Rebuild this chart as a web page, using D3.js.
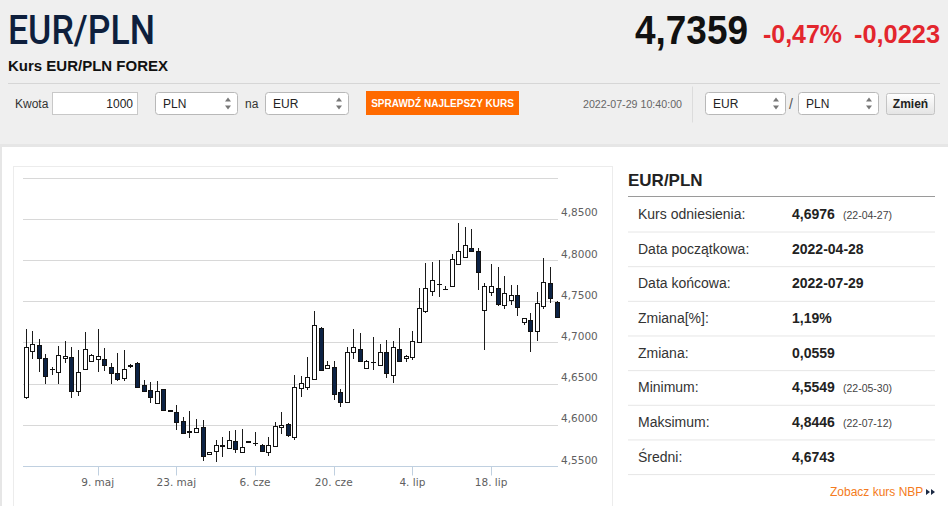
<!DOCTYPE html>
<html><head><meta charset="utf-8">
<script src="https://cdnjs.cloudflare.com/ajax/libs/d3/7.8.5/d3.min.js"></script>
<style>html,body{margin:0;padding:0;background:#fff;overflow:hidden}svg{display:block}</style>
</head><body><svg id="c" width="948" height="506"></svg>
<script>
// ---- data ----
const openV  = [4.6334,4.6896,4.6968,4.6807,4.6673,4.6645,4.6807,4.6819,4.6410,4.6681,4.6774,4.6795,4.6799,4.6705,4.6625,4.6564,4.6720,4.6750,4.6483,4.6422,4.6268,4.6431,4.6175,4.6159,4.6046,4.5920,4.5913,4.5970,4.5642,4.5686,4.5738,4.5715,4.5803,4.5674,4.5798,4.5779,4.5758,4.5674,4.5743,4.5970,4.6010,4.5848,4.6443,4.6462,4.6552,4.7178,4.6689,4.6705,4.6394,4.6280,4.6880,4.6916,4.6693,4.6758,4.6726,4.6880,4.6604,4.6916,4.6807,4.6819,4.7009,4.7381,4.7624,4.7705,4.7644,4.7684,4.7951,4.8040,4.8149,4.8109,4.7393,4.7615,4.7664,4.7454,4.7515,4.7575,4.7244,4.7272,4.7138,4.7442,4.7717,4.7494];
const highV  = [4.7159,4.7142,4.7038,4.6859,4.6705,4.6956,4.7017,4.6941,4.6908,4.7122,4.6855,4.7159,4.6928,4.6754,4.6875,4.6908,4.6738,4.6758,4.6544,4.6523,4.6532,4.6434,4.6180,4.6240,4.6091,4.6171,4.6074,4.6058,4.5674,4.5816,4.5856,4.5925,4.5937,4.5949,4.5805,4.5909,4.5763,4.5856,4.6034,4.6159,4.6016,4.6604,4.6596,4.6819,4.7381,4.7191,4.6774,4.6774,4.6431,4.6944,4.7159,4.7110,4.6786,4.7062,4.6977,4.7029,4.7021,4.7171,4.6847,4.7142,4.7664,4.7960,4.7972,4.8000,4.7688,4.8073,4.8446,4.8404,4.8373,4.8142,4.7717,4.7948,4.7919,4.7806,4.7697,4.7697,4.7302,4.7353,4.7608,4.8028,4.7919,4.7502];
const lowV   = [4.6313,4.6799,4.6645,4.6491,4.6604,4.6491,4.6754,4.6322,4.6353,4.6673,4.6766,4.6645,4.6653,4.6491,4.6535,4.6535,4.6689,4.6443,4.6394,4.6268,4.6261,4.6171,4.6164,4.5937,4.5885,4.5836,4.5904,4.5565,4.5633,4.5549,4.5606,4.5706,4.5661,4.5670,4.5785,4.5743,4.5674,4.5621,4.5734,4.5888,4.5856,4.5816,4.6341,4.6422,4.6544,4.6657,4.6677,4.6301,4.6220,4.6268,4.6795,4.6766,4.6686,4.6665,4.6714,4.6564,4.6511,4.6762,4.6766,4.6786,4.6996,4.7353,4.7563,4.7555,4.7636,4.7672,4.7939,4.8021,4.8103,4.7636,4.6908,4.7567,4.7445,4.7402,4.7454,4.7324,4.7211,4.6887,4.7017,4.7405,4.7475,4.7296];
const closeV = [4.6940,4.6977,4.6807,4.6596,4.6677,4.6843,4.6839,4.6410,4.6645,4.6920,4.6847,4.6831,4.6722,4.6632,4.6560,4.6677,4.6712,4.6462,4.6414,4.6334,4.6410,4.6180,4.6167,4.6028,4.5904,4.5912,4.5958,4.5625,4.5666,4.5755,4.5749,4.5816,4.5706,4.5727,4.5791,4.5785,4.5682,4.5755,4.5985,4.5998,4.5876,4.6455,4.6504,4.6576,4.7215,4.6669,4.6729,4.6370,4.6280,4.6887,4.6948,4.6774,4.6774,4.6766,4.6887,4.6625,4.6941,4.6774,4.6839,4.7021,4.7414,4.7664,4.7757,4.7712,4.7652,4.8008,4.8109,4.8182,4.8113,4.7858,4.7684,4.7688,4.7462,4.7603,4.7575,4.7433,4.7300,4.7138,4.7475,4.7729,4.7535,4.7305];
const xTickIndex  = [11,23,35,47,59,71];
const xTickLabels = ["9. maj","23. maj","6. cze","20. cze","4. lip","18. lip"];
const yTickValues = [4.55,4.60,4.65,4.70,4.75,4.80,4.85];
const yTickLabels = ["4,5500","4,6000","4,6500","4,7000","4,7500","4,8000","4,8500"];
const yGridValues = [4.60,4.65,4.70,4.75,4.80,4.85,4.90];
const statLabels = ["Kurs odniesienia:","Data początkowa:","Data końcowa:","Zmiana[%]:","Zmiana:","Minimum:","Maksimum:","Średni:"];
const statValues = ["4,6976","2022-04-28","2022-07-29","1,19%","0,0559","4,5549","4,8446","4,6743"];
const statDates  = ["(22-04-27)","","","","","(22-05-30)","(22-07-12)",""];

const svg = d3.select("#c");
const SANS = "'Liberation Sans', Arial, sans-serif";
const HC = "'DejaVu Sans', Verdana, sans-serif";

// ---- page background ----
svg.append("rect").attr("x",0).attr("y",0).attr("width",948).attr("height",506).attr("fill","#ffffff");
svg.append("rect").attr("x",0).attr("y",0).attr("width",948).attr("height",145).attr("fill","#efefef");
svg.append("rect").attr("x",0).attr("y",144).attr("width",948).attr("height",3).attr("fill","#e6e6e6");
svg.append("rect").attr("x",0).attr("y",144).attr("width",2).attr("height",362).attr("fill","#e6e6e6");

// ---- header ----
svg.append("text").attr("x",8).attr("y",44).attr("font-family","Roboto, "+SANS).attr("font-weight",500)
  .attr("font-size",40).attr("fill","#0e1f3d").attr("textLength",147).attr("lengthAdjust","spacingAndGlyphs").text("EUR/PLN");
svg.append("text").attr("x",635).attr("y",44).attr("font-family",SANS).attr("font-weight","bold")
  .attr("font-size",40).attr("fill","#111").attr("textLength",113).attr("lengthAdjust","spacingAndGlyphs").text("4,7359");
svg.append("text").attr("x",763).attr("y",43).attr("font-family",SANS).attr("font-weight","bold")
  .attr("font-size",26).attr("fill","#e3262d").attr("textLength",79).attr("lengthAdjust","spacingAndGlyphs").text("-0,47%");
svg.append("text").attr("x",854).attr("y",43).attr("font-family",SANS).attr("font-weight","bold")
  .attr("font-size",26).attr("fill","#e3262d").attr("textLength",86).attr("lengthAdjust","spacingAndGlyphs").text("-0,0223");
svg.append("text").attr("x",8).attr("y",71).attr("font-family",SANS).attr("font-weight","bold")
  .attr("font-size",15).attr("fill","#111").text("Kurs EUR/PLN FOREX");
svg.append("line").attr("x1",8).attr("x2",940).attr("y1",83.5).attr("y2",83.5).attr("stroke","#d6d6d6");

// ---- controls row ----
const cy = 92.5; // top of boxes
svg.append("text").attr("x",15).attr("y",cy+15.5).attr("font-family",SANS).attr("font-size",12).attr("fill","#333").text("Kwota");
svg.append("rect").attr("x",52.5).attr("y",cy).attr("width",85).attr("height",22).attr("fill","#fff").attr("stroke","#c8c8c8");
svg.append("text").attr("x",133).attr("y",cy+15.5).attr("text-anchor","end").attr("font-family",SANS).attr("font-size",12).attr("fill","#222").text("1000");
function selectBox(x, w, label){
  svg.append("rect").attr("x",x+0.5).attr("y",cy).attr("width",w).attr("height",22).attr("rx",3)
    .attr("fill","#fff").attr("stroke","#b8b8b8");
  svg.append("text").attr("x",x+8).attr("y",cy+15.5).attr("font-family",SANS).attr("font-size",12).attr("fill","#222").text(label);
  const ax = x + w - 9, my = cy + 11;
  svg.append("path").attr("d",`M${ax-3},${my-2} L${ax+3},${my-2} L${ax},${my-6} Z M${ax-3},${my+2} L${ax+3},${my+2} L${ax},${my+6} Z`).attr("fill","#777");
}
selectBox(155, 82, "PLN");
svg.append("text").attr("x",245).attr("y",cy+15.5).attr("font-family",SANS).attr("font-size",12).attr("fill","#333").text("na");
selectBox(265, 83, "EUR");
svg.append("rect").attr("x",366).attr("y",cy-1.5).attr("width",153).attr("height",24).attr("fill","#ff6a00");
svg.append("text").attr("x",442.5).attr("y",cy+14.5).attr("text-anchor","middle").attr("font-family",SANS).attr("font-weight","bold")
  .attr("font-size",10).attr("fill","#fff").text("SPRAWDŹ NAJLEPSZY KURS");
svg.append("text").attr("x",583).attr("y",cy+15.5).attr("font-family",SANS).attr("font-size",11).attr("fill","#666")
  .attr("textLength",99).attr("lengthAdjust","spacingAndGlyphs").text("2022-07-29 10:40:00");
svg.append("line").attr("x1",692.5).attr("x2",692.5).attr("y1",cy-6).attr("y2",cy+30).attr("stroke","#dcdcdc");
selectBox(705, 80, "EUR");
svg.append("text").attr("x",789).attr("y",cy+16.5).attr("font-family",SANS).attr("font-size",14).attr("fill","#555").text("/");
selectBox(798, 80, "PLN");
const zg = svg.append("defs").append("linearGradient").attr("id","zg").attr("x1",0).attr("x2",0).attr("y1",0).attr("y2",1);
zg.append("stop").attr("offset","0").attr("stop-color","#ffffff");
zg.append("stop").attr("offset","1").attr("stop-color","#e4e4e4");
svg.append("rect").attr("x",886.5).attr("y",cy+1).attr("width",48).attr("height",21).attr("rx",2).attr("fill","url(#zg)").attr("stroke","#c4c4c4");
svg.append("text").attr("x",910.5).attr("y",cy+15.5).attr("text-anchor","middle").attr("font-family",SANS).attr("font-weight","bold")
  .attr("font-size",12).attr("fill","#222").text("Zmień");

// ---- chart box ----
svg.append("rect").attr("x",13.5).attr("y",166.5).attr("width",599).attr("height",345).attr("fill","#fff").attr("stroke","#ececec");

const x = d3.scaleLinear().domain([0, openV.length-1]).range([25.6, 556.6]);
const y = d3.scaleLinear().domain([4.55, 4.90]).range([466, 177.6]);
const plotL = 23, plotR = 558;

svg.append("g").selectAll("line").data(yGridValues).join("line")
  .attr("x1",plotL).attr("x2",plotR)
  .attr("y1",d=>Math.round(y(d))+0.5).attr("y2",d=>Math.round(y(d))+0.5)
  .attr("stroke","#d8d8d8");

svg.append("g").selectAll("text").data(yTickValues).join("text")
  .attr("x",561).attr("y",d=>y(d)-2.5)
  .attr("font-family",HC).attr("font-size",10.5).attr("fill","#606060")
  .text((d,i)=>yTickLabels[i]);

// x axis
const axisY = Math.round(y(4.55))+0.5;
svg.append("line").attr("x1",plotL).attr("x2",plotR).attr("y1",axisY).attr("y2",axisY).attr("stroke","#c0d0e0");
const xt = svg.append("g").selectAll("g").data(xTickIndex).join("g");
xt.append("line").attr("x1",d=>Math.round(x(d))+0.5).attr("x2",d=>Math.round(x(d))+0.5)
  .attr("y1",axisY).attr("y2",axisY+9).attr("stroke","#c0d0e0");
xt.append("text").attr("x",d=>x(d)).attr("y",485.5).attr("text-anchor","middle")
  .attr("font-family",HC).attr("font-size",10.5).attr("fill","#606060").text((d,i)=>xTickLabels[i]);

// candles
const idx = d3.range(openV.length);
const cg = svg.append("g");
cg.selectAll("line").data(idx).join("line")
  .attr("x1",i=>Math.round(x(i))+0.5).attr("x2",i=>Math.round(x(i))+0.5)
  .attr("y1",i=>Math.round(y(highV[i]))).attr("y2",i=>Math.round(y(lowV[i])))
  .attr("stroke","#1b1b1b").attr("stroke-width",1);
cg.selectAll("rect").data(idx).join("rect")
  .attr("x",i=>Math.round(x(i))-1.5).attr("width",4)
  .attr("y",i=>Math.round(y(Math.max(openV[i],closeV[i])))+0.5)
  .attr("height",i=>Math.max(0.01, Math.round(y(Math.min(openV[i],closeV[i]))) - Math.round(y(Math.max(openV[i],closeV[i])))))
  .attr("fill",i=>closeV[i] < openV[i] ? "#0c2244" : "#ffffff")
  .attr("stroke","#111").attr("stroke-width",1);

// ---- right panel ----
svg.append("text").attr("x",628).attr("y",186).attr("font-family",SANS).attr("font-weight","bold")
  .attr("font-size",17).attr("fill","#222").text("EUR/PLN");
svg.append("line").attr("x1",628).attr("x2",935).attr("y1",196.5).attr("y2",196.5).attr("stroke","#9a9a9a");
const rows = svg.append("g").selectAll("g").data(statLabels).join("g")
  .attr("transform",(d,k)=>`translate(0,${214 + k*34.66})`);
rows.append("text").attr("x",638).attr("y",5).attr("font-family",SANS).attr("font-size",14).attr("fill","#333").text(d=>d);
rows.append("text").attr("x",792).attr("y",5).attr("font-family",SANS).attr("font-weight","bold").attr("font-size",14).attr("fill","#222")
  .text((d,k)=>statValues[k]);
rows.append("text").attr("x",843).attr("y",5).attr("font-family",SANS).attr("font-size",10.5).attr("fill","#444")
  .text((d,k)=>statDates[k]);
rows.append("line").attr("x1",628).attr("x2",935).attr("y1",18).attr("y2",18).attr("stroke","#e6e6e6");

svg.append("text").attr("x",830).attr("y",496).attr("font-family",SANS).attr("font-size",12).attr("fill","#f47b20").text("Zobacz kurs NBP");
svg.append("path").attr("d","M926,489 L930,492 L926,495 Z M931,489 L935,492 L931,495 Z").attr("fill","#1c2a44");
</script></body></html>
